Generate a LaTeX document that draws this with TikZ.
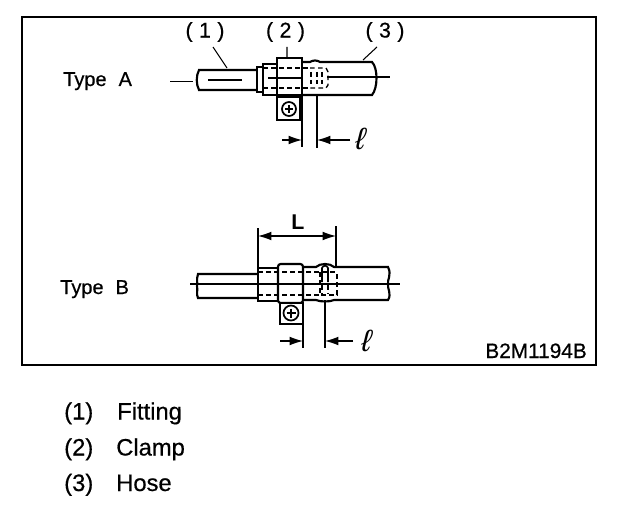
\documentclass[tikz,border=0pt]{standalone}
\usepackage{fontspec}
\setmainfont{Liberation Sans}
\newfontfamily\heavy{Liberation Sans}[FakeBold=0.5]
\usetikzlibrary{arrows.meta}
\tikzset{
  px/.style={x=0.75pt,y=-0.75pt},
  frame/.style={draw=black,line width=1.6pt},
  part/.style={draw=black,line width=1.6pt,fill=white},
  thin line/.style={draw=black,line width=0.8pt},
  center line/.style={draw=black,line width=0.9pt},
  hidden/.style={draw=black,line width=1pt,dash pattern=on 3.5pt off 2.5pt},
  dimtip/.style={-{Latex[length=10pt,width=6.5pt]}},
  lbl/.style={font=\heavy\fontsize{15}{17}\selectfont,text=black,inner sep=0pt},
  legend/.style={font=\heavy\fontsize{17.8}{19}\selectfont,text=black,inner sep=0pt},
  tag/.style={font=\heavy\fontsize{15.6}{17}\selectfont,text=black,inner sep=0pt},
  callout/.style={font=\heavy\fontsize{16}{18}\selectfont,text=black,inner sep=0pt},
  ell/.style={font=\fontsize{23}{24}\selectfont,text=black,inner sep=0pt,xslant=0.25,transform shape},
}
\begin{document}
\begin{tikzpicture}[px]
\useasboundingbox (0,0) rectangle (624,506);
\fill[white] (0,0) rectangle (624,506);
\draw[frame] (22,17) rectangle (596,365);

% Type A
\node[lbl,anchor=base west] (typeA) at (63,86) {Type\hspace{0.6em}A};
\node[callout] (n1) at (205,32) {(\hspace{0.3em}1\hspace{0.3em})};
\node[callout] (n2) at (285.5,32) {(\hspace{0.3em}2\hspace{0.3em})};
\node[callout] (n3) at (385,32) {(\hspace{0.3em}3\hspace{0.3em})};
\draw[part] (257,70) -- (199,70) .. controls (196,76) and (196,84) .. (199,90) -- (257,90);
\draw[part] (257,67) rectangle (263,92);
\draw[part] (263,64) rectangle (277,95);
\draw[part] (302,62) -- (310,62) .. controls (313,60) and (317,60) .. (320,62) -- (372,62) .. controls (378,68) and (378,88) .. (372,95) -- (302,95);
\draw[part] (277,58) rectangle (302,95);
\draw[part] (277,97) rectangle (300,120);
\draw[thin line,line width=1.3pt] (289,109) circle (7);
\draw[thin line,line width=1.3pt] (285,109) -- (293,109) (289,105) -- (289,113);
\draw[center line] (170,81.5) -- (193,81.5) (208,80) -- (242,80) (268,78) -- (303,78) (327,77) -- (390,77);
\draw[hidden] (263,68) -- (310,68) (263,88) -- (310,88);
\draw[hidden] (310,68) -- (326,68) -- (328,72) -- (328,85) -- (326,88) -- (310,88);
\draw[hidden] (311,72) -- (311,84) (317,72) -- (317,84) (322,72) -- (322,84);
\draw[thin line] (213,47) -- (227,68) (287,47) -- (287,58) (377,47) -- (363,60);
\coordinate (a1) at (302,147); \coordinate (a2) at (317,148);
\draw[thin line] (302,95) -- (a1) (317,95) -- (a2);
\coordinate (a3) at (282,140); \coordinate (a4) at (302,140); \coordinate (a5) at (350,140); \coordinate (a6) at (317,140);
\draw[thin line,dimtip] (a3) -- (a4);
\draw[thin line,dimtip] (a5) -- (a6);
\node[ell] (la) at (361,139) {\char"2113};

% Type B
\node[lbl,anchor=base west] (typeB) at (60,294) {Type\hspace{0.6em}B};
\draw[part] (258,274) -- (198,274) .. controls (196,280) and (198,284) .. (197,286) .. controls (198,290) and (196,294) .. (198,298) -- (258,298);
\draw[part] (258,268) rectangle (278,301);
\draw[part] (303,267) -- (316,267) .. controls (320,263) and (330,263) .. (334,267) -- (388,267) .. controls (392,275) and (387,280) .. (388,284) .. controls (387,288) and (392,294) .. (388,300) -- (334,300) .. controls (330,302) and (320,302) .. (316,300) -- (303,300);
\draw[part,rounded corners=2pt] (278,264) rectangle (303,303);
\draw[part] (280,303) rectangle (303,324);
\draw[thin line,line width=1.3pt] (291,313) circle (7.5);
\draw[thin line,line width=1.3pt] (286.5,313) -- (295.5,313) (291,308.5) -- (291,317.5);
\draw[center line] (190,284) -- (400,284);
\draw[hidden] (258,272) -- (336,272) (258,295) -- (320,295);
\draw[hidden] (320,272) -- (320,295) -- (337,295) -- (337,272);
\draw[thin line,line width=1.2pt] (322,282) -- (322,268) .. controls (323,265) and (327,265) .. (328,268) -- (328,282);
\draw[hidden] (322,285) -- (322,294) (328,285) -- (328,294);
\coordinate (b1) at (258,228); \coordinate (b2) at (336,226);
\draw[thin line] (b1) -- (258,268) (b2) -- (336,267);
\coordinate (b3) at (258,236); \coordinate (b4) at (336,236);
\draw[thin line,{Latex[length=10pt,width=6.5pt]}-{Latex[length=10pt,width=6.5pt]}] (b3) -- (b4);
\node[font=\bfseries\fontsize{16}{17}\selectfont,inner sep=0pt] (L) at (298,222) {L};
\coordinate (b5) at (303,348); \coordinate (b6) at (325,348);
\draw[thin line] (303,303) -- (b5) (325,300) -- (b6);
\coordinate (b7) at (280,341); \coordinate (b8) at (303,341); \coordinate (b9) at (353,341); \coordinate (b10) at (325,341);
\draw[thin line,dimtip] (b7) -- (b8);
\draw[thin line,dimtip] (b9) -- (b10);
\node[ell] (lb) at (367,341) {\char"2113};

\node[tag,anchor=base east] (code) at (587,358) {B2M1194B};

% Legend
\node[legend,anchor=base west] (k1) at (64,419.5) {(1)};
\node[legend,anchor=base west] (t1) at (117,419.5) {Fitting};
\node[legend,anchor=base west] (k2) at (64,455.5) {(2)};
\node[legend,anchor=base west] (t2) at (116,455.5) {Clamp};
\node[legend,anchor=base west] (k3) at (64,491) {(3)};
\node[legend,anchor=base west] (t3) at (116,491) {Hose};
\end{tikzpicture}
\end{document}
